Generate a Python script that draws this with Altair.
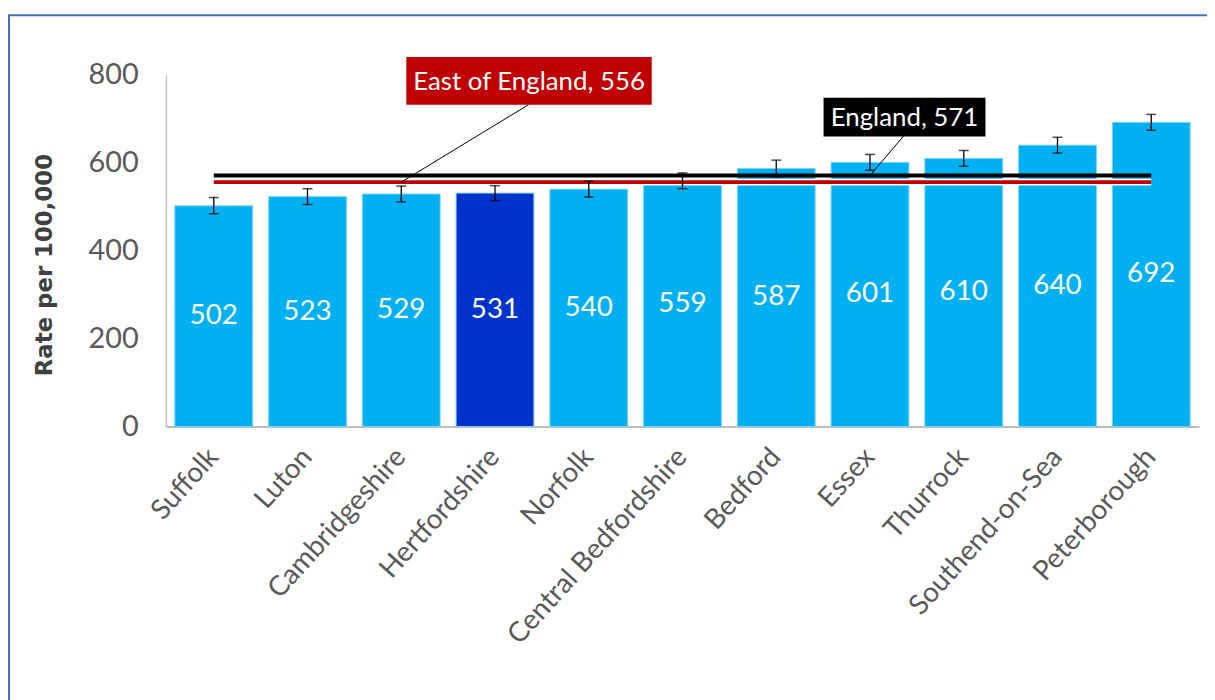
import altair as alt
import pandas as pd

# ---------------- data ----------------
regions = ["Suffolk", "Luton", "Cambridgeshire", "Hertfordshire", "Norfolk",
           "Central Bedfordshire", "Bedford", "Essex", "Thurrock",
           "Southend-on-Sea", "Peterborough"]
rates = [502, 523, 529, 531, 540, 559, 587, 601, 610, 640, 692]
lower_ci = [484, 505, 511, 514, 522, 541, 568, 583, 592, 622, 674]
upper_ci = [521, 541, 547, 548, 558, 577, 606, 619, 628, 658, 710]
highlight = "Hertfordshire"

bench_names = ["England", "East of England"]
bench_values = [571, 556]
bench_colors = ["#000000", "#C00000"]
bench_labels = ["England, 571", "East of England, 556"]
bench_anchor = ["Essex", "Cambridgeshire"]   # where the leader line meets the line

y_ticks = [0, 200, 400, 600, 800]

# ---------------- layout (pixels) ----------------
W, H = 1040, 354
FONT = "Lato"

df = pd.DataFrame({
    "region": regions, "rate": rates, "lo": lower_ci, "hi": upper_ci,
    "half": [r / 2 for r in rates],
    "hl": ["yes" if r == highlight else "no" for r in regions],
})

xscale = alt.Scale(domain=regions, paddingInner=0.17, paddingOuter=0.095)
yscale = alt.Scale(domain=[0, 800], nice=False)

X = alt.X("region:N", scale=xscale, sort=regions,
          axis=alt.Axis(title=None, labelAngle=-48, labelFontSize=28, labelFont=FONT,
                        labelColor="#595959", ticks=False, labelPadding=26,
                        labelLimit=400, labelOverlap=False,
                        domainColor="#A6A6A6", domainWidth=1.5, labelAlign="right",
                        labelBaseline="middle"))

bars = alt.Chart(df).mark_bar(stroke="#7FD3F7", strokeWidth=1).encode(
    x=X,
    y=alt.Y("rate:Q", scale=yscale,
            axis=alt.Axis(title="Rate per 100,000", values=y_ticks, grid=False, ticks=False,
                          labelFontSize=29, labelFont=FONT, labelColor="#595959",
                          labelPadding=28, domainColor="#BFBFBF", domainWidth=1.5,
                          titleFont="DejaVu Sans", titleFontSize=23, titleFontWeight="bold",
                          titleColor="#404040", titleAngle=-90, titleX=-122, titleY=191,
                          titleAlign="center", titleBaseline="middle")),
    color=alt.Color("hl:N", scale=alt.Scale(domain=["no", "yes"], range=["#00B0F0", "#0033CC"]),
                    legend=None),
)

vals = alt.Chart(df).mark_text(color="white", fontSize=28, font=FONT, baseline="middle").encode(
    x=alt.X("region:N", scale=xscale, sort=regions),
    y=alt.Y("half:Q", scale=yscale),
    text="rate:Q",
)

# benchmark lines (from first to last bar centre)
bdf = pd.DataFrame({"name": bench_names, "value": bench_values, "col": bench_colors,
                    "start": regions[0], "end": regions[-1]})
white_line = alt.Chart(bdf[bdf["name"] == "East of England"]).mark_rule(
    color="white", strokeWidth=7).encode(
    x=alt.X("start:N", scale=xscale, sort=regions), x2="end:N",
    y=alt.Y("value:Q", scale=yscale))
lines = alt.Chart(bdf).mark_rule(strokeWidth=4).encode(
    x=alt.X("start:N", scale=xscale, sort=regions), x2="end:N",
    y=alt.Y("value:Q", scale=yscale),
    color=alt.Color("col:N", scale=None))

# error bars
err = alt.Chart(df).mark_rule(color="#000000", strokeWidth=1.3).encode(
    x=alt.X("region:N", scale=xscale, sort=regions),
    y=alt.Y("lo:Q", scale=yscale), y2="hi:Q")
cap_lo = alt.Chart(df).mark_tick(color="#000000", size=10, thickness=1.5, orient="horizontal").encode(
    x=alt.X("region:N", scale=xscale, sort=regions), y=alt.Y("lo:Q", scale=yscale))
cap_hi = alt.Chart(df).mark_tick(color="#000000", size=10, thickness=1.5, orient="horizontal").encode(
    x=alt.X("region:N", scale=xscale, sort=regions), y=alt.Y("hi:Q", scale=yscale))

# annotation callouts (box geometry in pixels relative to plot area)
ann = pd.DataFrame({
    "label": bench_labels, "value": bench_values, "anchor": bench_anchor,
    "fill": ["#000000", "#C00000"],
    "bx": [662, 242], "bx2": [825, 489], "by": [23, -18], "by2": [62, 30],
    "lx": [743, 365], "ly": [61, 30],
})
ann["tx"] = (ann["bx"] + ann["bx2"]) / 2
ann["ty"] = (ann["by"] + ann["by2"]) / 2 + 1

leaders = []
boxes = []
texts = []
for _, r in ann.iterrows():
    one = pd.DataFrame([r])
    leaders.append(alt.Chart(one).mark_rule(color="#000000", strokeWidth=1).encode(
        x=alt.X("anchor:N", scale=xscale, sort=regions),
        y=alt.Y("value:Q", scale=yscale),
        x2=alt.value(float(r["lx"])), y2=alt.value(float(r["ly"]))))
    boxes.append(alt.Chart(one).mark_rect(color=r["fill"]).encode(
        x=alt.value(float(r["bx"])), x2=alt.value(float(r["bx2"])),
        y=alt.value(float(r["by"])), y2=alt.value(float(r["by2"]))))
    texts.append(alt.Chart(one).mark_text(color="white", fontSize=26, font=FONT,
                                          baseline="middle", align="center").encode(
        x=alt.value(float(r["tx"])), y=alt.value(float(r["ty"])), text="label:N"))

border = alt.Chart(pd.DataFrame({"a": [0]})).mark_rect(
    fill=None, stroke="#4472C4", strokeWidth=2).encode(
    x=alt.value(-158), x2=alt.value(1053), y=alt.value(-60), y2=alt.value(700))

chart = alt.layer(
    border, bars, vals, white_line, lines, err, cap_lo, cap_hi,
    *leaders, *boxes, *texts
).properties(
    width=W, height=H, background="white",
    autosize=alt.AutoSizeParams(type="none"),
    padding={"left": 159, "top": 65, "right": 8, "bottom": 273},
).configure_view(stroke=None)

chart.save("out.html", embed_options={"renderer": "svg", "actions": False})
